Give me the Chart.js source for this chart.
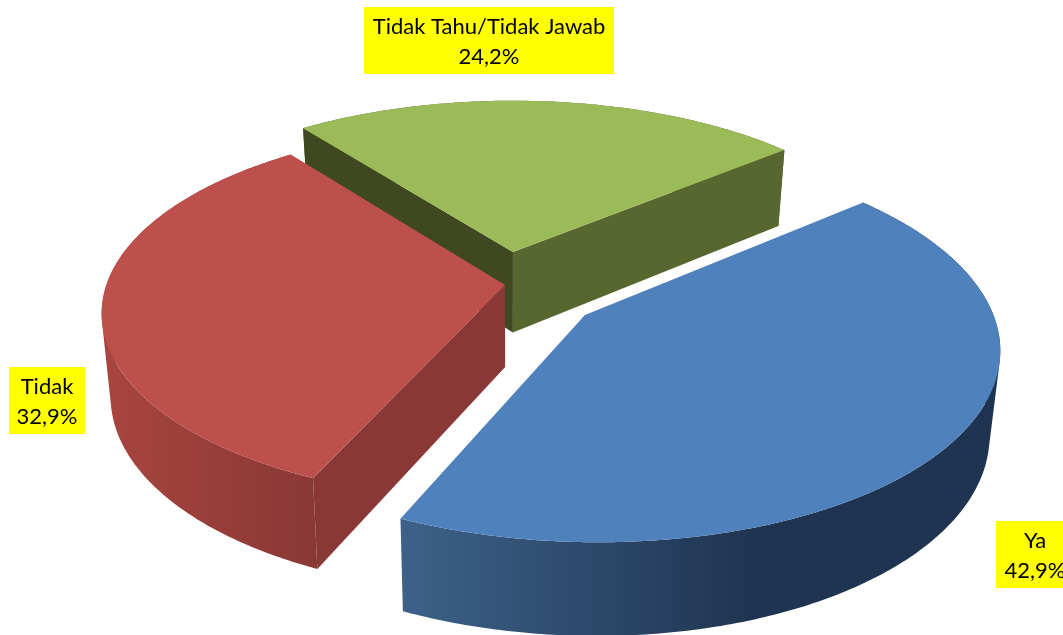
<!DOCTYPE html>
<html>
<head>
<meta charset="utf-8">
<style>html,body{margin:0;padding:0;background:#fff}canvas{display:block}</style>
<script src="https://cdn.jsdelivr.net/npm/chart.js@4"></script>
</head>
<body>
<canvas id="c" width="1063" height="635"></canvas>
<script>
const categories = ['Ya', 'Tidak', 'Tidak Tahu/Tidak Jawab'];
const values = [42.9, 32.9, 24.2];
const topColors = ['#4f81bd', '#bd4f4c', '#9bbb59'];

// Camera: the flat unit pie plane seen in perspective
const cam = {cx: 511, cy: 284.5, a: 398.5, b: 183, p: 0.15, k: 0.978, d: 82};
// Explosion of each slice in plane units
const explode = [[0.181, 0.163], [-0.015, 0.003], [0.005, -0.1825]];
// Side styling
const wallStops = [
  [[402, '#3d6189'], [755, '#1f3450'], [1001, '#1f3450']],
  [[102, '#a8453f'], [313, '#8a3836']],
  [[304, '#58662f'], [783, '#58662f']]
];
const startFace = ['#1f3450', '#8a3836', '#3f4821'];
const endFace = ['#1f3450', '#8a3836', '#58662f'];
const labelBoxes = [
  {x: 996, y: 521, w: 78, h: 67, tx: 1035},
  {x: 9, y: 367, w: 76, h: 67, tx: 47},
  {x: 364, y: 7, w: 250, h: 67, tx: 489}
];
const drawOrder = [2, 1, 0];

function project(x, y, lower) {
  const w = 1 - cam.p * y, k = lower ? cam.k : 1;
  return [cam.cx + k * cam.a * x / w,
          cam.cy + (lower ? cam.d / w : 0) + k * cam.b * y / w];
}
function rim(i, arc, lower) {
  const pts = [], n = Math.ceil((arc.endAngle - arc.startAngle) * 90);
  for (let s = 0; s <= n; s++) {
    const t = arc.startAngle + (arc.endAngle - arc.startAngle) * s / n;
    pts.push(project(explode[i][0] + Math.cos(t), explode[i][1] + Math.sin(t), lower));
  }
  return pts;
}
function addPoly(ctx, pts) {
  let area = 0;
  pts.forEach((q, j) => {
    const r = pts[(j + 1) % pts.length];
    area += q[0] * r[1] - r[0] * q[1];
  });
  const list = area < 0 ? pts.slice().reverse() : pts;
  list.forEach((q, j) => j ? ctx.lineTo(q[0], q[1]) : ctx.moveTo(q[0], q[1]));
  ctx.closePath();
}
function fillPoly(ctx, pts, style) {
  ctx.beginPath();
  addPoly(ctx, pts);
  ctx.fillStyle = style;
  ctx.fill();
}
const pie3d = {
  id: 'pie3d',
  beforeDatasetDraw(chart, args) {
    const ctx = chart.ctx, arcs = args.meta.data;
    drawOrder.forEach(i => {
      const arc = arcs[i];
      const up = rim(i, arc, false), low = rim(i, arc, true);
      const a0 = project(explode[i][0], explode[i][1], false);
      const a1 = project(explode[i][0], explode[i][1], true);
      // outer wall, swept quad by quad so the silhouette has no notch
      const st = wallStops[i];
      const g = ctx.createLinearGradient(st[0][0], 0, st[st.length - 1][0], 0);
      st.forEach(s => g.addColorStop((s[0] - st[0][0]) / (st[st.length - 1][0] - st[0][0]), s[1]));
      ctx.beginPath();
      for (let s = 0; s < up.length - 1; s++) addPoly(ctx, [up[s], up[s + 1], low[s + 1], low[s]]);
      ctx.fillStyle = g;
      ctx.fill();
      // radial faces, only those turned towards the viewer
      if (Math.cos(arc.startAngle) < 0) fillPoly(ctx, [a0, up[0], low[0], a1], startFace[i]);
      if (Math.cos(arc.endAngle) > 0) fillPoly(ctx, [a0, up[up.length - 1], low[low.length - 1], a1], endFace[i]);
      // top surface
      fillPoly(ctx, [a0].concat(up), arc.options.backgroundColor);
    });
    return false;
  },
  afterDraw(chart) {
    const ctx = chart.ctx;
    ctx.save();
    ctx.font = '22px Lato, sans-serif';
    ctx.textAlign = 'center';
    ctx.textBaseline = 'middle';
    categories.forEach((name, i) => {
      const b = labelBoxes[i];
      ctx.fillStyle = '#ffff00';
      ctx.fillRect(b.x, b.y, b.w, b.h);
      ctx.fillStyle = '#000';
      ctx.fillText(name, b.tx, b.y + 20);
      ctx.fillText(values[i].toFixed(1).replace('.', ',') + '%', b.tx, b.y + 50);
    });
    ctx.restore();
  }
};
new Chart(document.getElementById('c'), {
  type: 'pie',
  data: {labels: categories, datasets: [{data: values, backgroundColor: topColors, borderWidth: 0}]},
  options: {
    responsive: false, animation: false, rotation: 50, devicePixelRatio: 1,
    plugins: {legend: {display: false}, tooltip: {enabled: false}}
  },
  plugins: [pie3d]
});
</script>
</body>
</html>
